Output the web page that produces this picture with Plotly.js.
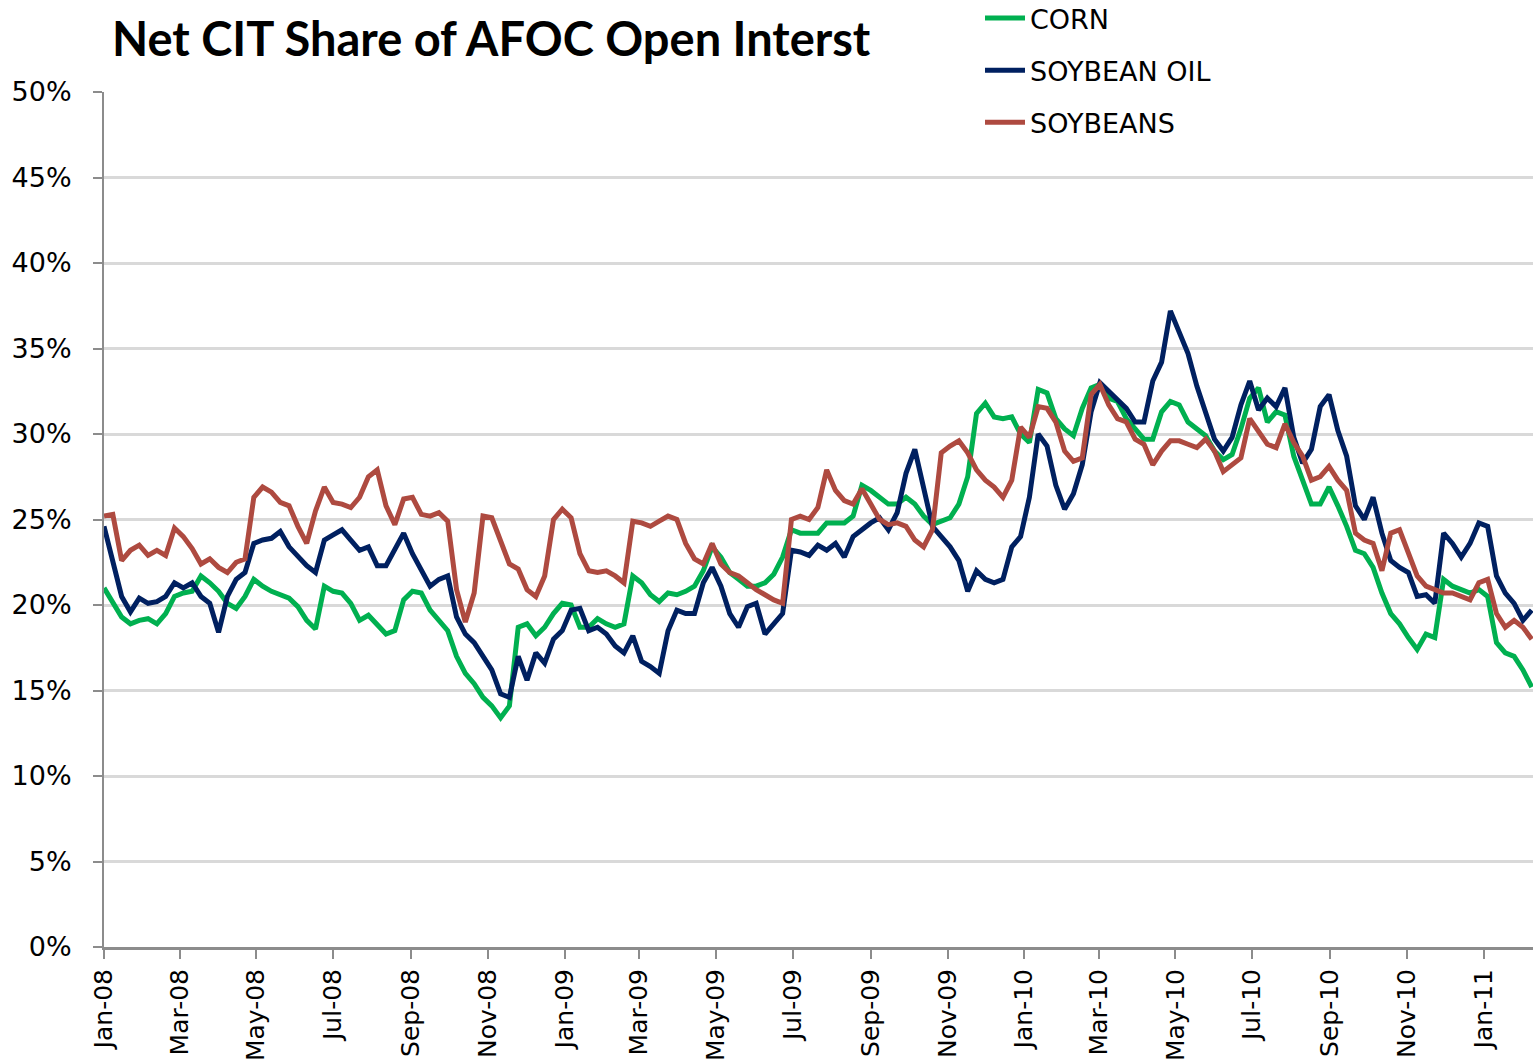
<!DOCTYPE html>
<html>
<head>
<meta charset="utf-8">
<script src="https://cdn.plot.ly/plotly-3.0.1.min.js"></script>
<style>
html,body{margin:0;padding:0;background:#fff;overflow:hidden;}
#chart{width:1533px;height:1064px;}
</style>
</head>
<body>
<div id="chart"></div>
<script>
// Weekly observations starting 2008-01-01
const startDate = '2008-01-01';
const stepDays = 7;

const seriesNames = ['CORN', 'SOYBEAN OIL', 'SOYBEANS'];

const corn = [
21.0,20.1,19.3,18.9,19.1,19.2,18.9,19.5,20.5,20.7,
20.8,21.7,21.3,20.8,20.1,19.8,20.5,21.5,21.1,20.8,
20.6,20.4,19.9,19.1,18.6,21.1,20.8,20.7,20.1,19.1,
19.4,18.9,18.3,18.5,20.3,20.8,20.7,19.7,19.1,18.5,
17.0,16.0,15.4,14.6,14.1,13.4,14.1,18.7,18.9,18.2,
18.7,19.5,20.1,20.0,18.7,18.7,19.2,18.9,18.7,18.9,
21.7,21.3,20.6,20.2,20.7,20.6,20.8,21.1,22.0,23.4,
22.8,21.9,21.5,21.1,21.1,21.3,21.8,22.8,24.4,24.2,
24.2,24.2,24.8,24.8,24.8,25.2,27.0,26.7,26.3,25.9,
25.9,26.3,25.9,25.2,24.7,24.9,25.1,25.9,27.5,31.2,
31.8,31.0,30.9,31.0,30.0,29.5,32.6,32.4,30.9,30.3,
29.9,31.5,32.7,32.9,32.1,31.9,30.9,30.3,29.7,29.7,
31.3,31.9,31.7,30.7,30.3,29.9,29.0,28.5,28.8,30.3,
32.1,32.7,30.7,31.3,31.1,28.7,27.3,25.9,25.9,26.9,
25.8,24.6,23.2,23.0,22.2,20.7,19.5,18.9,18.1,17.4,
18.3,18.1,21.5,21.1,20.9,20.7,20.9,20.5,17.8,17.2,
17.0,16.2,15.2
];

const soybeanOil = [
24.6,22.4,20.5,19.6,20.4,20.1,20.2,20.5,21.3,21.0,
21.3,20.5,20.1,18.4,20.5,21.5,21.9,23.6,23.8,23.9,
24.3,23.4,22.8,22.3,21.9,23.8,24.1,24.4,23.8,23.2,
23.4,22.3,22.3,23.2,24.2,23.0,22.1,21.1,21.5,21.7,
19.3,18.3,17.8,17.0,16.2,14.8,14.6,17.0,15.6,17.2,
16.6,18.0,18.5,19.7,19.8,18.5,18.7,18.3,17.6,17.2,
18.2,16.7,16.4,16.0,18.5,19.7,19.5,19.5,21.3,22.2,
21.1,19.5,18.7,19.9,20.1,18.3,18.9,19.5,23.2,23.1,
22.9,23.5,23.2,23.6,22.8,24.0,24.4,24.8,25.1,24.4,
25.4,27.7,29.1,26.9,24.6,24.0,23.4,22.6,20.8,22.0,
21.5,21.3,21.5,23.4,24.0,26.3,30.0,29.3,27.0,25.6,
26.5,28.2,31.3,33.0,32.5,32.1,31.5,30.7,30.7,33.1,
34.2,37.2,35.9,34.7,32.8,31.2,29.7,29.0,29.8,31.7,
33.1,31.4,32.1,31.6,32.7,29.8,28.3,29.1,31.6,32.3,
30.2,28.7,25.8,25.0,26.3,24.2,22.6,22.2,21.9,20.5,
20.6,20.1,24.2,23.6,22.8,23.6,24.8,24.6,21.7,20.7,
20.1,19.1,19.7
];

const soybeans = [
25.2,25.3,22.6,23.2,23.5,22.9,23.2,22.9,24.5,24.0,
23.3,22.4,22.7,22.2,21.9,22.5,22.7,26.3,26.9,26.6,
26.0,25.8,24.6,23.6,25.5,26.9,26.0,25.9,25.7,26.3,
27.5,27.9,25.8,24.7,26.2,26.3,25.3,25.2,25.4,24.9,
20.9,19.0,20.7,25.2,25.1,23.8,22.4,22.1,20.9,20.5,
21.7,25.0,25.6,25.1,23.0,22.0,21.9,22.0,21.7,21.3,
24.9,24.8,24.6,24.9,25.2,25.0,23.6,22.7,22.4,23.6,
22.4,21.9,21.7,21.3,20.9,20.6,20.3,20.1,25.0,25.2,
25.0,25.7,27.9,26.7,26.1,25.9,26.8,25.9,25.0,24.7,
24.8,24.6,23.8,23.4,24.4,28.9,29.3,29.6,28.9,27.9,
27.3,26.9,26.3,27.3,30.4,29.8,31.6,31.5,30.7,29.0,
28.4,28.6,32.3,32.9,31.7,30.9,30.7,29.7,29.4,28.2,
29.0,29.6,29.6,29.4,29.2,29.7,29.0,27.8,28.2,28.6,
30.9,30.1,29.4,29.2,30.6,29.5,28.7,27.3,27.5,28.1,
27.3,26.7,24.2,23.8,23.6,22.0,24.2,24.4,23.0,21.7,
21.1,20.9,20.7,20.7,20.5,20.3,21.3,21.5,19.5,18.7,
19.1,18.7,18.0
];

const yTickVals = [0,5,10,15,20,25,30,35,40,45,50];
const yTickText = ['0%','5%','10%','15%','20%','25%','30%','35%','40%','45%','50%'];

function weeklyDates(n) {
  const out = [];
  const base = new Date(startDate + 'T00:00:00Z');
  for (let i = 0; i < n; i++) {
    const d = new Date(base.getTime() + i * stepDays * 86400000);
    out.push(d.toISOString().slice(0, 10));
  }
  return out;
}

const dates = weeklyDates(corn.length);

const colors = ['#00B050', '#002060', '#AE4A40'];
const values = [corn, soybeanOil, soybeans];

const traces = values.map((v, k) => ({
  x: dates,
  y: v,
  type: 'scatter',
  mode: 'lines',
  name: seriesNames[k],
  legendgroup: 'g' + k,
  line: {color: colors[k], width: 5, shape: 'linear'}
}));

const FONT = 'DejaVu Sans, Verdana, sans-serif';

const layout = {
  width: 1533,
  height: 1064,
  margin: {l: 104, r: 0, t: 92, b: 117, pad: 0, autoexpand: false},
  paper_bgcolor: '#ffffff',
  plot_bgcolor: '#ffffff',
  title: {
    text: '<b>Net CIT Share of AFOC Open Interst</b>',
    font: {family: 'Lato, sans-serif', size: 47, color: '#000000'},
    x: 112 / 1533,
    xanchor: 'left',
    xref: 'container',
    y: 1 - 40 / 1064,
    yanchor: 'middle',
    yref: 'container'
  },
  showlegend: true,
  legend: {
    x: (980 - 104) / 1429,
    xanchor: 'left',
    y: 1 + 98 / 855,
    yanchor: 'top',
    font: {family: FONT, size: 27, color: '#000000'},
    bgcolor: 'rgba(0,0,0,0)',
    tracegroupgap: 14,
    itemwidth: 40,
    traceorder: 'grouped'
  },
  xaxis: {
    type: 'date',
    range: ['2008-01-01', '2011-02-09'],
    tick0: '2008-01-01',
    dtick: 'M2',
    tickformat: '%b-%y',
    tickangle: -90,
    ticks: 'outside',
    ticklen: 9,
    tickwidth: 2,
    tickcolor: '#8C8C8C',
    showgrid: false,
    showline: true,
    linecolor: '#8C8C8C',
    linewidth: 3,
    zeroline: false,
    tickfont: {family: FONT, size: 25, color: '#000000'}
  },
  yaxis: {
    range: [0, 50],
    tickvals: yTickVals,
    ticktext: yTickText,
    ticks: 'outside',
    ticklen: 9,
    tickwidth: 2,
    tickcolor: '#8C8C8C',
    showgrid: true,
    gridcolor: '#D9D9D9',
    gridwidth: 3,
    showline: true,
    linecolor: '#8C8C8C',
    linewidth: 2,
    zeroline: false,
    ticklabelstandoff: 16,
    tickfont: {family: FONT, size: 27, color: '#000000'}
  }
};

Plotly.newPlot('chart', traces, layout, {displayModeBar: false, staticPlot: true});
</script>
</body>
</html>
